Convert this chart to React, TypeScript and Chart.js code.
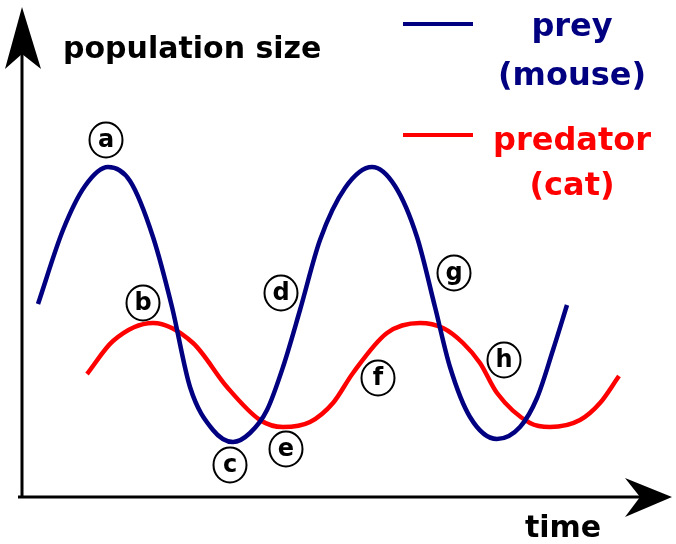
import { useEffect, useRef } from "react";
import { Chart, registerables } from "chart.js";

Chart.register(...registerables);

// time (arbitrary units) and population size (arbitrary units)
const PREY_TIME = [3.2, 8.2, 12.6, 17.2, 21.6, 26.2, 30, 33.6, 38.2, 42.2, 45.6, 49, 52.2, 55.6, 59.6, 64.6, 70, 74.6, 79, 82.6, 85.6, 89.6, 95, 99.6, 103, 106.2, 109];
const PREY = [38.6, 53.4, 62.2, 66, 63.2, 52, 38, 22, 13.4, 11, 12.8, 17.4, 26, 37.4, 51.4, 61.8, 66, 62.2, 52, 38, 26, 16, 11.6, 14, 19.8, 29.4, 38.4];

const PRED_TIME = [13, 18.2, 26.2, 34.2, 41, 47.6, 52.2, 57.6, 62.2, 66.2, 73, 79.6, 84.2, 88.2, 91.6, 95, 101.6, 105.6, 111.6, 115.6, 119.4];
const PREDATOR = [24.6, 31.2, 34.8, 30.8, 22, 15.4, 14, 15, 18.8, 24.8, 32.8, 34.8, 33.8, 30.8, 26.8, 20.8, 14.8, 14, 15.4, 18.8, 24.2];

const NOTE_LABELS = ["a", "b", "c", "d", "e", "f", "g", "h"];
const NOTE_TIME = [16.8, 24.2, 41.6, 51.8, 52.8, 71.2, 86.4, 96.4];
const NOTE_POP = [71.4, 38.8, 6.4, 40.8, 9.6, 23.8, 44.8, 27.4];

const SERIES_NAMES = [["prey", "(mouse)"], ["predator", "(cat)"]];
const Y_TITLE = "population size";
const X_TITLE = "time";

const X_MAX = 130;
const Y_MAX = 98;

const PREY_COLOR = "#000080";
const PRED_COLOR = "#ff0000";
const FONT = '"Comic Sans MS", "DejaVu Sans", sans-serif';

const decorPlugin = {
  id: "decor",
  beforeDatasetsDraw(chart: any) {
    const ctx = chart.ctx as CanvasRenderingContext2D;
    const xs = chart.scales.x;
    const ys = chart.scales.y;
    const x0 = xs.getPixelForValue(0);
    const y0 = ys.getPixelForValue(0);
    const top = ys.getPixelForValue(Y_MAX);
    const right = xs.getPixelForValue(X_MAX);
    ctx.save();
    ctx.strokeStyle = "#000";
    ctx.fillStyle = "#000";
    ctx.lineWidth = 3;
    ctx.beginPath();
    ctx.moveTo(x0, y0 + 1.5);
    ctx.lineTo(x0, top + 40);
    ctx.moveTo(x0 - 4, y0);
    ctx.lineTo(right - 30, y0);
    ctx.stroke();
    // y arrow
    ctx.beginPath();
    ctx.moveTo(x0, top);
    ctx.lineTo(x0 + 19, top + 62);
    ctx.lineTo(x0, top + 47);
    ctx.lineTo(x0 - 17, top + 62);
    ctx.closePath();
    ctx.fill();
    // x arrow
    ctx.beginPath();
    ctx.moveTo(right, y0);
    ctx.lineTo(right - 47, y0 - 19);
    ctx.lineTo(right - 32, y0);
    ctx.lineTo(right - 47, y0 + 20);
    ctx.closePath();
    ctx.fill();

    // axis titles
    ctx.textBaseline = "alphabetic";
    ctx.textAlign = "left";
    ctx.font = `bold 30px ${FONT}`;
    ctx.fillText(Y_TITLE, x0 + 41, top + 51);
    ctx.textAlign = "center";
    ctx.fillText(X_TITLE, right - 109, y0 + 40);

    // legend
    const colors = [PREY_COLOR, PRED_COLOR];
    const lineY = [24, 135];
    const textY = [[36, 85], [150, 195]];
    colors.forEach((c, i) => {
      ctx.strokeStyle = c;
      ctx.fillStyle = c;
      ctx.lineWidth = 4;
      ctx.beginPath();
      ctx.moveTo(403, lineY[i]);
      ctx.lineTo(473, lineY[i]);
      ctx.stroke();
      ctx.font = `bold 32px ${FONT}`;
      ctx.textAlign = "center";
      ctx.fillText(SERIES_NAMES[i][0], 572, textY[i][0]);
      ctx.fillText(SERIES_NAMES[i][1], 572, textY[i][1]);
    });
    ctx.restore();
  },
  afterDatasetsDraw(chart: any) {
    const ctx = chart.ctx as CanvasRenderingContext2D;
    const xs = chart.scales.x;
    const ys = chart.scales.y;
    ctx.save();
    ctx.strokeStyle = "#000";
    ctx.fillStyle = "#000";
    ctx.lineWidth = 2;
    NOTE_LABELS.forEach((lab, i) => {
      const cx = xs.getPixelForValue(NOTE_TIME[i]);
      const cy = ys.getPixelForValue(NOTE_POP[i]);
      ctx.beginPath();
      ctx.ellipse(cx, cy, 16.5, 17.5, 0, 0, Math.PI * 2);
      ctx.fillStyle = "#fff";
      ctx.fill();
      ctx.stroke();
      ctx.fillStyle = "#000";
      ctx.font = `bold 24px ${FONT}`;
      ctx.textAlign = "center";
      ctx.textBaseline = "middle";
      ctx.fillText(lab, cx, cy + 1);
    });
    ctx.restore();
  },
};

export default function App() {
  const ref = useRef<HTMLCanvasElement | null>(null);
  useEffect(() => {
    if (!ref.current) return;
    const chart = new Chart(ref.current, {
      type: "line",
      data: {
        datasets: [
          {
            label: SERIES_NAMES[0].join(" "),
            data: PREY_TIME.map((t, i) => ({ x: t, y: PREY[i] })),
            borderColor: PREY_COLOR,
            borderWidth: 4.5,
            pointRadius: 0,
            cubicInterpolationMode: "monotone",
            fill: false,
          },
          {
            label: SERIES_NAMES[1].join(" "),
            data: PRED_TIME.map((t, i) => ({ x: t, y: PREDATOR[i] })),
            borderColor: PRED_COLOR,
            borderWidth: 4.5,
            pointRadius: 0,
            cubicInterpolationMode: "monotone",
            fill: false,
          },
        ],
      },
      options: {
        animation: false,
        responsive: false,
        maintainAspectRatio: false,
        layout: { padding: { left: 22, top: 7, right: 4, bottom: 47 } },
        plugins: { legend: { display: false }, tooltip: { enabled: false } },
        scales: {
          x: { type: "linear", min: 0, max: X_MAX, display: false },
          y: { type: "linear", min: 0, max: Y_MAX, display: false },
        },
      },
      plugins: [decorPlugin],
    });
    return () => chart.destroy();
  }, []);
  return (
    <div style={{ position: "fixed", left: 0, top: 0, width: 676, height: 544, background: "#fff" }}>
      <canvas ref={ref} width={676} height={544} style={{ width: 676, height: 544 }} />
    </div>
  );
}
